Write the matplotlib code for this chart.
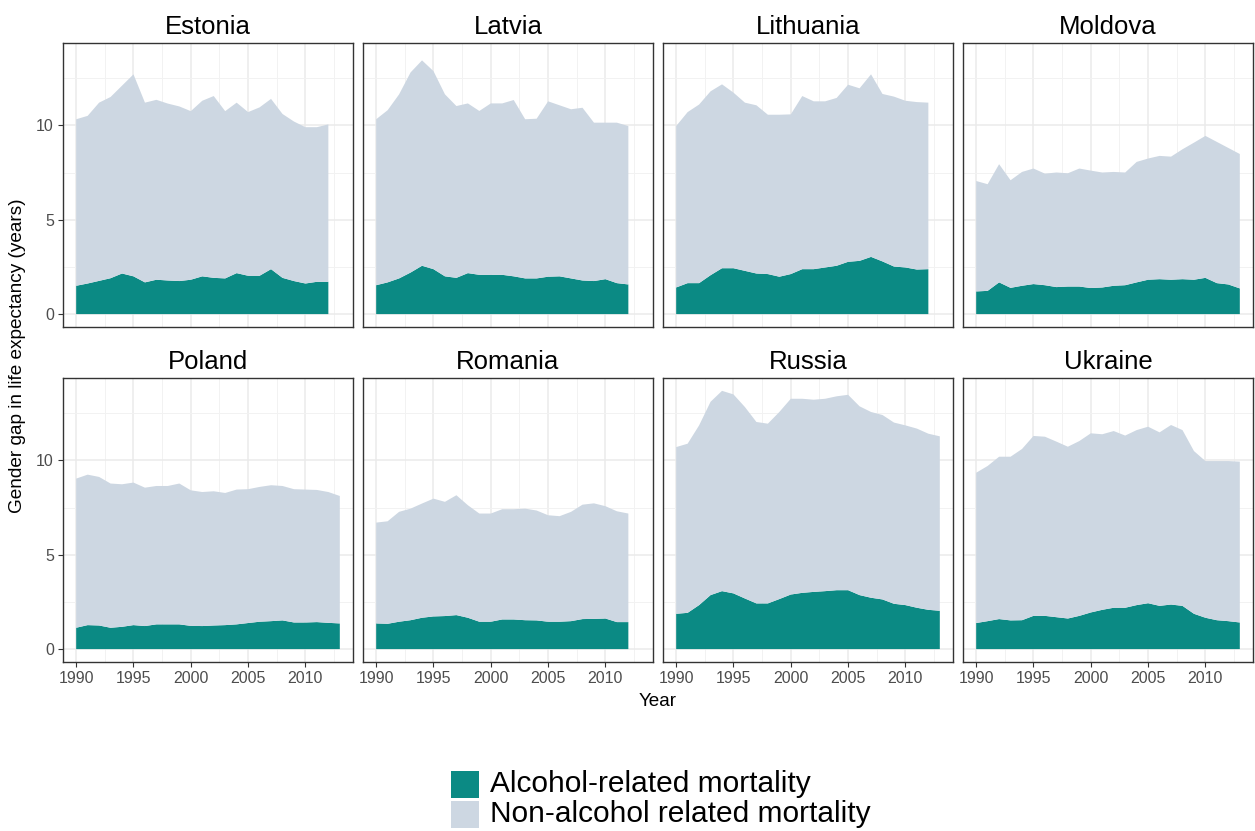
import matplotlib
matplotlib.use("Agg")
import matplotlib.pyplot as plt
from matplotlib.patches import Rectangle
from matplotlib.ticker import MultipleLocator

plt.rcParams["font.family"] = ["Liberation Sans", "DejaVu Sans"]

years_to_2012 = list(range(1990, 2013))
years_to_2013 = list(range(1990, 2014))

# total gap (top of stack) and alcohol-related part
estonia_total = [10.32, 10.5, 11.2, 11.5, 12.1, 12.7, 11.2, 11.35, 11.15, 11.0, 10.75, 11.3,
                 11.55, 10.75, 11.2, 10.7, 10.95, 11.4, 10.6, 10.2, 9.9, 9.9, 10.05]
estonia_alcohol = [1.5, 1.62, 1.76, 1.9, 2.15, 2.0, 1.68, 1.82, 1.78, 1.75, 1.82, 2.0,
                   1.92, 1.89, 2.17, 2.03, 2.03, 2.38, 1.92, 1.75, 1.62, 1.71, 1.71]

latvia_total = [10.32, 10.8, 11.64, 12.8, 13.44, 12.87, 11.64, 11.02, 11.16, 10.76, 11.16, 11.16,
                11.34, 10.32, 10.35, 11.27, 11.06, 10.85, 10.93, 10.14, 10.14, 10.14, 9.96]
latvia_alcohol = [1.53, 1.68, 1.89, 2.2, 2.56, 2.38, 2.0, 1.92, 2.17, 2.08, 2.08, 2.08,
                  2.0, 1.89, 1.89, 1.98, 2.0, 1.89, 1.78, 1.75, 1.85, 1.64, 1.57]

lithuania_total = [9.96, 10.7, 11.1, 11.8, 12.17, 11.73, 11.2, 11.06, 10.56, 10.56, 10.58, 11.55,
                   11.27, 11.27, 11.45, 12.15, 11.96, 12.7, 11.66, 11.52, 11.3, 11.23, 11.2]
lithuania_alcohol = [1.41, 1.64, 1.64, 2.06, 2.43, 2.43, 2.29, 2.15, 2.12, 1.98, 2.12, 2.38,
                     2.38, 2.47, 2.56, 2.77, 2.82, 3.03, 2.79, 2.52, 2.47, 2.36, 2.38]

moldova_total = [7.05, 6.88, 7.94, 7.09, 7.53, 7.71, 7.44, 7.5, 7.46, 7.71, 7.6, 7.5,
                 7.53, 7.5, 8.06, 8.24, 8.38, 8.34, 8.73, 9.08, 9.44, 9.12, 8.8, 8.48]
moldova_alcohol = [1.2, 1.23, 1.68, 1.39, 1.5, 1.59, 1.53, 1.43, 1.46, 1.46, 1.38, 1.41,
                   1.5, 1.53, 1.68, 1.82, 1.85, 1.82, 1.85, 1.82, 1.92, 1.64, 1.57, 1.36]

poland_total = [9.03, 9.24, 9.12, 8.77, 8.73, 8.82, 8.55, 8.64, 8.64, 8.77, 8.41, 8.32,
                8.36, 8.27, 8.45, 8.47, 8.59, 8.68, 8.64, 8.47, 8.45, 8.43, 8.32, 8.11]
poland_alcohol = [1.13, 1.27, 1.25, 1.13, 1.18, 1.27, 1.22, 1.31, 1.31, 1.31, 1.23, 1.22,
                  1.25, 1.27, 1.31, 1.38, 1.45, 1.48, 1.52, 1.41, 1.41, 1.43, 1.39, 1.36]

romania_total = [6.7, 6.77, 7.27, 7.44, 7.71, 7.97, 7.8, 8.15, 7.62, 7.18, 7.18, 7.41,
                 7.41, 7.44, 7.34, 7.09, 7.04, 7.27, 7.65, 7.72, 7.57, 7.3, 7.18]
romania_alcohol = [1.36, 1.34, 1.45, 1.53, 1.66, 1.73, 1.75, 1.8, 1.66, 1.45, 1.45, 1.57,
                   1.57, 1.53, 1.52, 1.45, 1.45, 1.48, 1.59, 1.6, 1.62, 1.43, 1.43]

russia_total = [10.7, 10.88, 11.85, 13.1, 13.68, 13.49, 12.82, 12.03, 11.94, 12.56, 13.26, 13.26,
                13.21, 13.26, 13.39, 13.47, 12.86, 12.56, 12.4, 12.0, 11.85, 11.68, 11.41, 11.27]
russia_alcohol = [1.87, 1.92, 2.33, 2.86, 3.07, 2.95, 2.68, 2.42, 2.42, 2.65, 2.89, 2.98,
                  3.03, 3.07, 3.12, 3.12, 2.86, 2.72, 2.63, 2.4, 2.33, 2.19, 2.08, 2.03]

ukraine_total = [9.34, 9.7, 10.19, 10.19, 10.6, 11.29, 11.25, 10.99, 10.72, 11.02, 11.43, 11.38,
                 11.55, 11.31, 11.6, 11.78, 11.48, 11.87, 11.6, 10.49, 9.96, 9.96, 9.96, 9.93]
ukraine_alcohol = [1.38, 1.48, 1.59, 1.52, 1.53, 1.76, 1.76, 1.69, 1.62, 1.76, 1.94, 2.08,
                   2.19, 2.19, 2.33, 2.43, 2.29, 2.36, 2.29, 1.87, 1.66, 1.53, 1.48, 1.41]

panels = [
    ("Estonia", years_to_2012, estonia_total, estonia_alcohol),
    ("Latvia", years_to_2012, latvia_total, latvia_alcohol),
    ("Lithuania", years_to_2012, lithuania_total, lithuania_alcohol),
    ("Moldova", years_to_2013, moldova_total, moldova_alcohol),
    ("Poland", years_to_2013, poland_total, poland_alcohol),
    ("Romania", years_to_2012, romania_total, romania_alcohol),
    ("Russia", years_to_2013, russia_total, russia_alcohol),
    ("Ukraine", years_to_2013, ukraine_total, ukraine_alcohol),
]

TEAL = "#0b8a84"
LIGHT = "#cdd7e2"
W, H = 1255, 831

fig, axes = plt.subplots(2, 4, figsize=(W / 100, H / 100), dpi=100, sharex=True, sharey=True)
fig.subplots_adjust(left=63 / W, right=1253 / W, top=1 - 43 / H, bottom=1 - 662 / H,
                    wspace=10 / 290, hspace=51 / 284)

for i, (ax, (name, yrs, tot, alc)) in enumerate(zip(axes.flat, panels)):
    non_alc = [t - a for t, a in zip(tot, alc)]
    ax.stackplot(yrs, alc, non_alc, colors=[TEAL, LIGHT], linewidth=0, zorder=2)
    ax.set_title(name, fontsize=18.5, pad=6.5)
    ax.set_xlim(1988.85, 2014.15)
    ax.set_ylim(-0.684, 14.36)
    ax.xaxis.set_major_locator(MultipleLocator(5))
    ax.xaxis.set_minor_locator(MultipleLocator(2.5))
    ax.yaxis.set_major_locator(MultipleLocator(5))
    ax.yaxis.set_minor_locator(MultipleLocator(2.5))
    ax.grid(which="major", color="#ebebeb", linewidth=1.1, zorder=0)
    ax.grid(which="minor", color="#f2f2f2", linewidth=0.7, zorder=0)
    ax.set_axisbelow(True)
    for sp in ax.spines.values():
        sp.set_color("#333333")
        sp.set_linewidth(1.0)
    ax.tick_params(which="major", length=3.5, width=0.8, color="#333333",
                   labelcolor="#4d4d4d", labelsize=11.5, pad=3)
    ax.tick_params(which="minor", length=0)
    ax.tick_params(bottom=(i >= 4), left=(i % 4 == 0))

fig.text(18 / W, 1 - 356 / H, "Gender gap in life expectancy (years)", rotation=90,
         ha="center", va="center", fontsize=13.7)
fig.text(658 / W, 1 - 702 / H, "Year", ha="center", va="center", fontsize=13.6)

# legend drawn by hand to match the tight key spacing
legend_labels = ["Alcohol-related mortality", "Non-alcohol related mortality"]
for i, (lab, col) in enumerate(zip(legend_labels, [TEAL, LIGHT])):
    top = 771 + i * 30
    fig.patches.append(Rectangle((451 / W, 1 - (top + 27) / H), 28 / W, 27 / H,
                                 transform=fig.transFigure, facecolor=col, edgecolor="none"))
    fig.text(490 / W, 1 - (top + 13.5) / H, lab, ha="left", va="center", fontsize=21.5)

fig.savefig("out.png", dpi=100)
